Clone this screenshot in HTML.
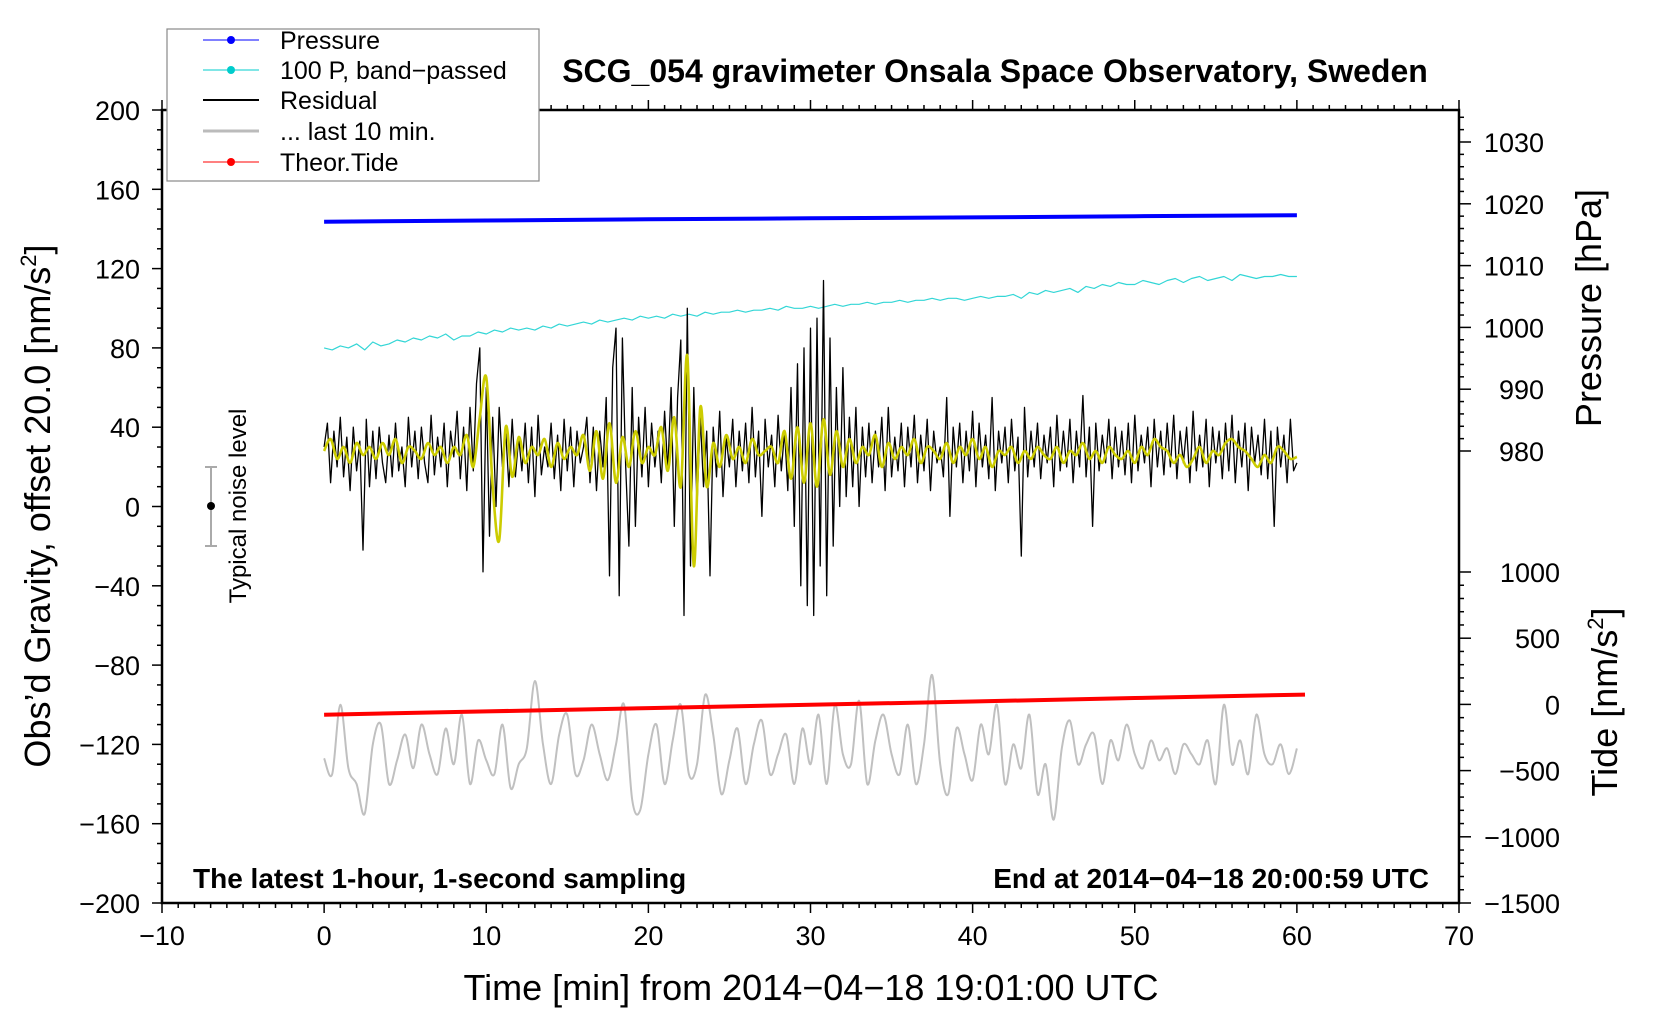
<!DOCTYPE html>
<html><head><meta charset="utf-8"><style>
body{margin:0;background:#fff;}
svg text{font-family:"Liberation Sans",sans-serif;fill:#000;}
</style></head><body>
<svg id="c" width="1660" height="1020" viewBox="0 0 1660 1020" xmlns="http://www.w3.org/2000/svg">
<rect width="1660" height="1020" fill="#fff"/>
<g id="marks"></g>
<g id="axes"></g>
<text x="995" y="82" font-size="32" font-weight="bold" text-anchor="middle">SCG_054 gravimeter Onsala Space Observatory, Sweden</text>
<text x="193" y="888" font-size="28" font-weight="bold">The latest 1-hour, 1-second sampling</text>
<text x="1429" y="888" font-size="28" font-weight="bold" text-anchor="end">End at 2014−04−18 20:00:59 UTC</text>
<text x="811" y="1000" font-size="36" text-anchor="middle">Time [min] from 2014−04−18 19:01:00 UTC</text>
<text transform="translate(50,506) rotate(-90)" font-size="36" text-anchor="middle">Obs’d Gravity, offset 20.0 [nm/s<tspan font-size="22" dy="-14">2</tspan><tspan dy="14">]</tspan></text>
<text transform="translate(1601,308) rotate(-90)" font-size="36" text-anchor="middle">Pressure [hPa]</text>
<text transform="translate(1617,702) rotate(-90)" font-size="36" text-anchor="middle">Tide [nm/s<tspan font-size="22" dy="-14">2</tspan><tspan dy="14">]</tspan></text>
<g>
<line x1="211" y1="467" x2="211" y2="546" stroke="#aaa" stroke-width="2"/>
<line x1="205" y1="467" x2="217" y2="467" stroke="#aaa" stroke-width="2"/>
<line x1="205" y1="546" x2="217" y2="546" stroke="#aaa" stroke-width="2"/>
<circle cx="211" cy="506" r="4" fill="#000"/>
<text transform="translate(246,506) rotate(-90)" font-size="24" text-anchor="middle">Typical noise level</text>
</g>
<g>
<rect x="167" y="29" width="372" height="152" fill="#fff" stroke="#888" stroke-width="1.2"/>
<g><line x1="203" y1="40" x2="259" y2="40" stroke="#00f" stroke-width="1"/><circle cx="231" cy="40" r="4" fill="#00f"/><text x="280" y="49" font-size="25">Pressure</text></g>
<g><line x1="203" y1="70" x2="259" y2="70" stroke="#00cccc" stroke-width="1"/><circle cx="231" cy="70" r="4" fill="#00cccc"/><text x="280" y="79" font-size="25">100 P, band−passed</text></g>
<g><line x1="203" y1="100" x2="259" y2="100" stroke="#000" stroke-width="2"/><text x="280" y="109" font-size="25">Residual</text></g>
<g><line x1="203" y1="131" x2="259" y2="131" stroke="#bbb" stroke-width="3"/><text x="280" y="140" font-size="25">... last 10 min.</text></g>
<g><line x1="203" y1="162" x2="259" y2="162" stroke="#f00" stroke-width="1"/><circle cx="231" cy="162" r="4" fill="#f00"/><text x="280" y="171" font-size="25">Theor.Tide</text></g>
</g>
</svg>
<script>
// ---- data ----
const residualStep = 0.2;
const residual = [30,42,12,38,20,45,15,35,8,40, 18,33,-22,44,10,38,14,40,22,12, 36,15,42,18,30,10,45,20,38,14, 40,22,12,46,16,35,20,42,10,38,
 25,48,14,40,8,50,18,62,80,-33, 60,-15,45,0,50,20,38,10,44,15, 35,18,42,12,40,5,46,16,30,20, 42,14,36,8,44,18,40,10,38,22,
 30,45,12,40,8,38,20,55,-35,70, 90,-45,85,20,-20,60,-10,45,15,50, 10,42,20,38,12,48,18,60,-10,55, 84,-55,100,-30,60,0,45,10,38,-35,
 40,15,48,5,35,20,44,10,38,18, 42,12,50,15,38,-5,44,20,36,10, 46,18,38,8,60,-10,72,-40,80,-50, 90,-55,95,-30,114,-45,85,-20,60,0,
 70,5,45,10,50,0,40,15,42,12, 38,20,45,8,50,15,35,18,42,10, 40,20,46,12,36,18,44,8,38,22, 30,15,55,-5,40,20,42,12,38,18,
 48,10,42,20,36,14,55,8,38,22, 40,12,44,18,35,-25,50,15,38,20, 42,14,36,22,40,10,46,18,38,20, 44,12,38,20,56,15,40,-10,42,18,
 36,22,44,14,40,20,38,16,42,12, 46,18,36,22,40,10,44,20,38,16, 42,20,46,14,38,22,40,12,48,18, 36,20,44,10,40,22,38,14,42,18,
 46,12,38,20,42,8,40,22,36,16, 44,14,38,-10,40,20,36,12,44,18, 22];
const smoothStep = 0.4;
const smoothed = [28,34,24,30,22,32,26,30,24,32, 26,34,22,30,28,24,32,26,30,22, 30,26,36,20,45,65,10,-17,40,15,
 35,22,30,26,34,20,32,24,30,26, 36,18,38,14,42,12,35,20,38,22, 30,26,40,18,45,10,76,-30,50,10,
 32,20,36,24,30,22,34,26,28,30, 22,38,14,40,12,42,10,44,16,38, 20,34,22,30,26,36,20,32,24,30,
 26,34,22,30,28,24,32,22,30,26, 34,24,30,20,28,26,30,22,28,24, 30,26,24,30,22,28,26,32,24,28,
 22,30,26,24,28,22,30,26,34,30, 28,22,26,20,24,30,22,28,26,32, 34,30,28,24,20,26,22,30,28,24, 25];
const lastStep = 0.5;
const last10 = [-127,-135,-100,-132,-140,-155,-120,-110,-140,-128, -115,-132,-110,-125,-135,-112,-130,-105,-140,-118,
 -128,-135,-110,-142,-130,-122,-88,-120,-140,-115, -105,-135,-128,-110,-125,-138,-120,-100,-148,-153,
 -125,-110,-140,-118,-100,-135,-130,-95,-115,-145, -128,-112,-140,-120,-108,-135,-125,-115,-140,-112,
 -130,-105,-140,-100,-125,-130,-98,-140,-118,-105, -125,-135,-110,-140,-120,-85,-130,-145,-112,-125,
 -138,-110,-125,-100,-140,-120,-132,-105,-145,-130, -158,-122,-108,-130,-120,-115,-140,-118,-128,-110,
 -125,-132,-118,-128,-122,-135,-120,-125,-130,-118, -140,-100,-130,-118,-135,-105,-125,-130,-120,-135, -122];
const bandStep = 0.5;
const bandPassed = [80,79,81,80,82,79,83,81,82,84, 83,85,84,86,85,87,84,86,86,88, 87,89,88,90,89,90,89,91,90,92,
 91,92,93,92,94,93,94,95,94,96, 95,96,95,97,96,97,96,98,97,98, 98,99,98,99,99,100,99,101,100,100,
 101,100,101,102,101,102,102,103,102,103, 103,104,103,104,104,105,104,105,105,104, 105,106,105,106,106,107,105,108,107,109,
 108,109,110,108,111,110,112,111,113,112, 112,114,113,112,114,115,113,115,116,114, 115,116,114,117,116,115,116,116,117,116, 116];
const pressureTimes = [0,10,20,30,40,50,60];
const pressureValues = [1017.1,1017.3,1017.5,1017.65,1017.8,1018.0,1018.15];
const tideTimes = [0,10,20,30,40,50,60.5];
const tideValues = [-78,-53,-28,-3,22,48,74];
const xTicks = [-10,0,10,20,30,40,50,60,70];
const yTicks = [200,160,120,80,40,0,-40,-80,-120,-160,-200];
const pTicks = [1030,1020,1010,1000,990,980];
const tTicks = [1000,500,0,-500,-1000,-1500];

// ---- axes functions ----
const L=162,R=1459,T=110,B=903;
const X=t=>L+(t+10)*(R-L)/80;
const Y=g=>B-(g+200)*(B-T)/400;
const P=p=>142+(1030-p)*6.18;
const TD=v=>572-(v-1000)*0.1324;
const NS='http://www.w3.org/2000/svg';
const marks=document.getElementById('marks'), axes=document.getElementById('axes');
function mk(tag,attrs,parent){const e=document.createElementNS(NS,tag);for(const k in attrs)e.setAttribute(k,attrs[k]);parent.appendChild(e);return e;}
function fmt(v){return (v<0?'−':'')+Math.abs(v);}
function poly(pts,stroke,w,name){
  const e=mk('polyline',{points:pts.map(p=>p[0].toFixed(1)+','+p[1].toFixed(1)).join(' '),fill:'none',stroke:stroke,'stroke-width':w,'stroke-linejoin':'round'},marks);
  
  
}
function curve(pts,stroke,w,name){
  let d='M'+pts[0][0].toFixed(1)+','+pts[0][1].toFixed(1);
  for(let i=0;i<pts.length-1;i++){
    const p0=pts[Math.max(0,i-1)],p1=pts[i],p2=pts[i+1],p3=pts[Math.min(pts.length-1,i+2)];
    const c1x=p1[0]+(p2[0]-p0[0])/6,c1y=p1[1]+(p2[1]-p0[1])/6,c2x=p2[0]-(p3[0]-p1[0])/6,c2y=p2[1]-(p3[1]-p1[1])/6;
    d+=' C'+c1x.toFixed(1)+','+c1y.toFixed(1)+' '+c2x.toFixed(1)+','+c2y.toFixed(1)+' '+p2[0].toFixed(1)+','+p2[1].toFixed(1);
  }
  const e=mk('path',{d:d,fill:'none',stroke:stroke,'stroke-width':w},marks);
  
  
}
poly(pressureTimes.map((t,i)=>[X(t),P(pressureValues[i])]),'#0000ff',4,'pressure-line');
poly(bandPassed.map((v,i)=>[X(i*bandStep),Y(v)]),'#33d6d6',1.2,'band-passed-pressure-line');
curve(last10.map((v,i)=>[X(i*lastStep),Y(v)]),'#c0c0c0',2,'last-10-min-line');
poly(tideTimes.map((t,i)=>[X(t),TD(tideValues[i])]),'#ff0000',4,'theor-tide-line');
poly(residual.map((v,i)=>[X(i*residualStep),Y(v)]),'#000',1.3,'residual-line');
curve(smoothed.map((v,i)=>[X(i*smoothStep),Y(v)]),'#cccc00',2.6,'residual-smoothed-line');

const fr=mk('rect',{x:L,y:T,width:R-L,height:B-T,fill:'none',stroke:'#000','stroke-width':2.5},axes);


for(let t=-10;t<=70;t++){
  const major=t%10===0, len=major?10:5;
  mk('line',{x1:X(t),y1:B,x2:X(t),y2:B+len,stroke:'#000','stroke-width':1.5},axes);
  mk('line',{x1:X(t),y1:T,x2:X(t),y2:T-len,stroke:'#000','stroke-width':1.5},axes);
}
xTicks.forEach(t=>{const e=mk('text',{x:X(t),y:945,'font-size':27,'text-anchor':'middle'},axes);e.textContent=fmt(t);
  
  });
for(let g=-200;g<=200;g+=10){
  const major=g%40===0;
  mk('line',{x1:L,y1:Y(g),x2:L-(major?10:5),y2:Y(g),stroke:'#000','stroke-width':1.5},axes);
}
yTicks.forEach(g=>{const e=mk('text',{x:140,y:Y(g)+10,'font-size':27,'text-anchor':'end'},axes);e.textContent=fmt(g);
  
  });
for(let p=980;p<=1034;p+=2){
  const major=p%10===0;
  mk('line',{x1:R,y1:P(p),x2:R+(major?12:5),y2:P(p),stroke:'#000','stroke-width':1.5},axes);
}
pTicks.forEach(p=>{const e=mk('text',{x:1544,y:P(p)+10,'font-size':27,'text-anchor':'end'},axes);e.textContent=fmt(p);
  
  });
for(let v=-1500;v<=1000;v+=100){
  const major=v%500===0;
  mk('line',{x1:R,y1:TD(v),x2:R+(major?12:5),y2:TD(v),stroke:'#000','stroke-width':1.5},axes);
}
tTicks.forEach(v=>{const e=mk('text',{x:1560,y:TD(v)+10,'font-size':27,'text-anchor':'end'},axes);e.textContent=fmt(v);
  
  });
</script>
</body></html>
